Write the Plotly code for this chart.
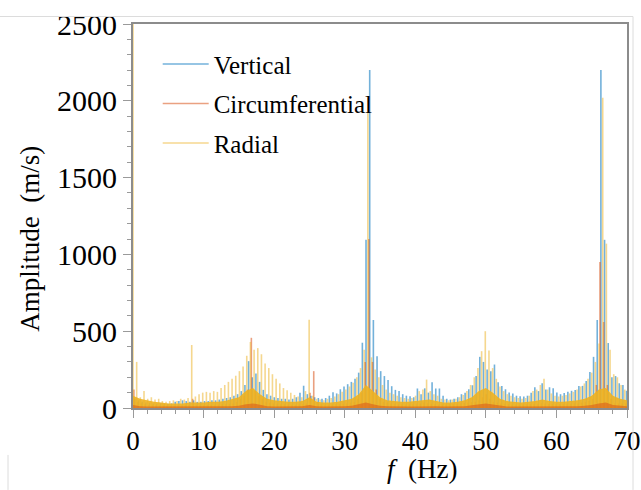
import plotly.graph_objects as go

# ---------------- data ----------------
spike_step = 0.52          # spacing of the spectral lines (Hz)
vert_offset = 0.26         # Vertical lines sit between the Radial ones
circ_offset = 0.13

radial_amp = [
    2600, 300, 70, 110, 60, 70, 55, 60, 45, 40,
    45, 50, 45, 60, 55, 65, 410, 75, 90, 100,
    105, 100, 110, 105, 130, 150, 170, 190, 210, 240,
    270, 340, 430, 380, 390, 350, 290, 260, 220, 190,
    160, 130, 115, 100, 85, 75, 70, 110, 575, 80,
    60, 55, 50, 60, 65, 75, 90, 105, 120, 140,
    165, 200, 260, 380, 2020, 330, 250, 200, 150, 120,
    100, 90, 80, 70, 65, 60, 65, 80, 110, 120,
    185, 110, 90, 80, 60, 55, 50, 55, 60, 70,
    85, 110, 150, 200, 260, 370, 500, 375, 260, 190,
    140, 110, 90, 80, 70, 65, 60, 65, 80, 110,
    120, 150, 190, 120, 95, 80, 75, 80, 85, 95,
    105, 120, 140, 160, 190, 230, 300, 420, 2020, 1070,
    380, 220, 200, 150, 120,
]

vertical_amp = [
    60, 50, 40, 35, 35, 30, 30, 30, 28, 28,
    30, 40, 45, 50, 45, 40, 50, 40, 40, 45,
    45, 50, 50, 55, 60, 65, 70, 80, 90, 110,
    150, 305, 200, 225, 170, 118, 90, 80, 70, 65,
    60, 60, 55, 60, 70, 100, 145, 90, 80, 70,
    65, 60, 65, 80, 103, 95, 122, 140, 155, 170,
    190, 230, 425, 1095, 2200, 573, 337, 240, 208, 182,
    142, 118, 111, 90, 80, 77, 70, 127, 90, 128,
    100, 167, 127, 127, 80, 60, 55, 60, 70, 90,
    100, 122, 148, 208, 333, 300, 250, 240, 283, 167,
    143, 122, 101, 95, 80, 77, 75, 80, 100, 135,
    110, 161, 120, 135, 128, 101, 90, 97, 105, 112,
    118, 144, 144, 176, 234, 333, 573, 2200, 1095, 423,
    200, 208, 161, 150, 113,
]

circ_amp = [
    120, 40, 30, 25, 20, 18, 18, 16, 16, 15,
    15, 16, 18, 18, 20, 20, 60, 20, 18, 18,
    20, 20, 22, 22, 25, 25, 28, 30, 40, 60,
    80, 120, 457, 110, 80, 60, 40, 35, 30, 28,
    25, 25, 22, 22, 20, 22, 25, 30, 100, 240,
    40, 25, 22, 22, 22, 25, 25, 28, 30, 35,
    40, 60, 100, 300, 1100, 300, 120, 60, 40, 35,
    30, 28, 25, 25, 22, 22, 25, 28, 30, 35,
    30, 28, 25, 22, 22, 22, 25, 25, 28, 30,
    32, 35, 38, 40, 50, 70, 90, 60, 40, 35,
    30, 28, 25, 22, 22, 22, 22, 25, 25, 28,
    28, 30, 30, 28, 25, 25, 25, 25, 28, 28,
    30, 30, 35, 40, 45, 60, 150, 950, 560, 150,
    60, 30, 30, 30, 30,
]

# dense low-level "floor" of each spectrum, one value per Hz (0..70)
radial_floor = [
    80, 60, 50, 40, 35, 30, 30, 30, 35, 35,
    35, 40, 40, 45, 55, 70, 110, 130, 90, 60,
    50, 45, 40, 40, 45, 70, 40, 35, 35, 40,
    50, 60, 90, 150, 110, 70, 50, 45, 40, 40,
    45, 50, 55, 45, 35, 35, 40, 50, 70, 110,
    130, 100, 60, 45, 40, 35, 40, 45, 55, 45,
    40, 40, 45, 50, 60, 80, 120, 130, 80, 60,
    50,
]
circ_floor = [
    20, 12, 10, 10, 8, 8, 8, 8, 10, 8,
    8, 8, 10, 10, 12, 15, 25, 30, 20, 12,
    10, 10, 10, 10, 12, 20, 12, 10, 10, 10,
    12, 15, 25, 35, 25, 15, 12, 10, 10, 10,
    10, 12, 14, 12, 10, 10, 10, 12, 18, 25,
    30, 22, 14, 10, 10, 10, 10, 10, 12, 10,
    10, 10, 10, 12, 15, 20, 30, 35, 20, 14,
    12,
]

x_ticks = [0, 10, 20, 30, 40, 50, 60, 70]
y_ticks = [0, 500, 1000, 1500, 2000, 2500]

# ---------------- helpers ----------------
def grid(n, offset):
    return [round(k * spike_step + offset, 3) for k in range(n)]

def stems(fs, amps):
    xs, ys = [], []
    for f, a in zip(fs, amps):
        xs += [f, f, None]
        ys += [0, a, None]
    return xs, ys

BLUE, RED, YEL = "#0072BD", "#D95319", "#EDB120"
SERIF = "Liberation Serif, Times New Roman, serif"

fig = go.Figure()

vx, vy = stems(grid(len(vertical_amp), vert_offset), vertical_amp)
cx, cy = stems(grid(len(circ_amp), circ_offset), circ_amp)
rx, ry = stems(grid(len(radial_amp), 0.0), radial_amp)

fig.add_trace(go.Scatter(x=vx, y=vy, mode="lines", name="Vertical",
                         line=dict(color=BLUE, width=1.6), opacity=0.55,
                         legendgroup="v", legendrank=1))
fig.add_trace(go.Scatter(x=cx, y=cy, mode="lines", name="Circumferential",
                         line=dict(color=RED, width=1.6), opacity=0.55,
                         legendgroup="c", legendrank=2))
fig.add_trace(go.Scatter(x=rx, y=ry, mode="lines", name="Radial",
                         line=dict(color=YEL, width=1.6), opacity=0.5,
                         legendgroup="r", legendrank=3))
fig.add_trace(go.Scatter(x=list(range(len(radial_floor))), y=radial_floor,
                         mode="lines", fill="tozeroy", line=dict(width=0, color=YEL),
                         fillcolor="rgba(237,177,32,0.9)", showlegend=False,
                         hoverinfo="skip"))
fig.add_trace(go.Scatter(x=list(range(len(circ_floor))), y=circ_floor,
                         mode="lines", fill="tozeroy", line=dict(width=0, color=RED),
                         fillcolor="rgba(217,83,25,0.55)", showlegend=False,
                         hoverinfo="skip"))

axis_common = dict(
    showgrid=False, zeroline=False, showline=True, mirror=True, automargin=False,
    linecolor="#8c8c8c", linewidth=2, ticks="outside", tickcolor="#9a9a9a",
    ticklen=8, tickwidth=1,
)

fig.update_xaxes(range=[0, 70], tickvals=x_ticks, layer="below traces",
                 tickfont=dict(family=SERIF, size=27, color="black"),
                 minor=dict(dtick=2, ticks="outside", ticklen=4, tickcolor="#9a9a9a"),
                 **axis_common)
fig.update_yaxes(range=[0, 2500], tickvals=y_ticks, layer="below traces",
                 tickfont=dict(family=SERIF, size=30, color="black"),
                 minor=dict(dtick=100, ticks="outside", ticklen=4, tickcolor="#9a9a9a"),
                 **axis_common)

fig.add_annotation(text="Amplitude  (m/s)", xref="paper", yref="paper",
                   x=-0.209, y=0.44, textangle=-90, showarrow=False,
                   xanchor="center", yanchor="middle",
                   font=dict(family=SERIF, size=27, color="black"))
fig.add_annotation(text="<i>f</i>  (Hz)", xref="paper", yref="paper",
                   x=0.585, y=-0.158, showarrow=False,
                   xanchor="center", yanchor="middle",
                   font=dict(family=SERIF, size=27, color="black"))

# faint frame lines of the original screenshot
for s in [dict(x0=0, x1=633, y0=16, y1=16), dict(x0=633, x1=633, y0=16, y1=490),
          dict(x0=8, x1=8, y0=455, y1=490)]:
    fig.add_shape(type="line", xref="paper", yref="paper",
                  x0=(s["x0"] - 133) / 494, x1=(s["x1"] - 133) / 494,
                  y0=(408 - s["y0"]) / 384.5, y1=(408 - s["y1"]) / 384.5,
                  line=dict(color="#dcdcdc", width=1))

fig.update_layout(
    width=641, height=490,
    margin=dict(l=133, r=14, t=24, b=82, autoexpand=False),
    paper_bgcolor="white", plot_bgcolor="white",
    showlegend=True,
    legend=dict(x=0.05, y=0.955, xanchor="left", yanchor="top",
                bgcolor="rgba(0,0,0,0)", borderwidth=0,
                font=dict(family=SERIF, size=25, color="black"),
                tracegroupgap=4, itemwidth=46),
)

fig.write_html("out.html")
